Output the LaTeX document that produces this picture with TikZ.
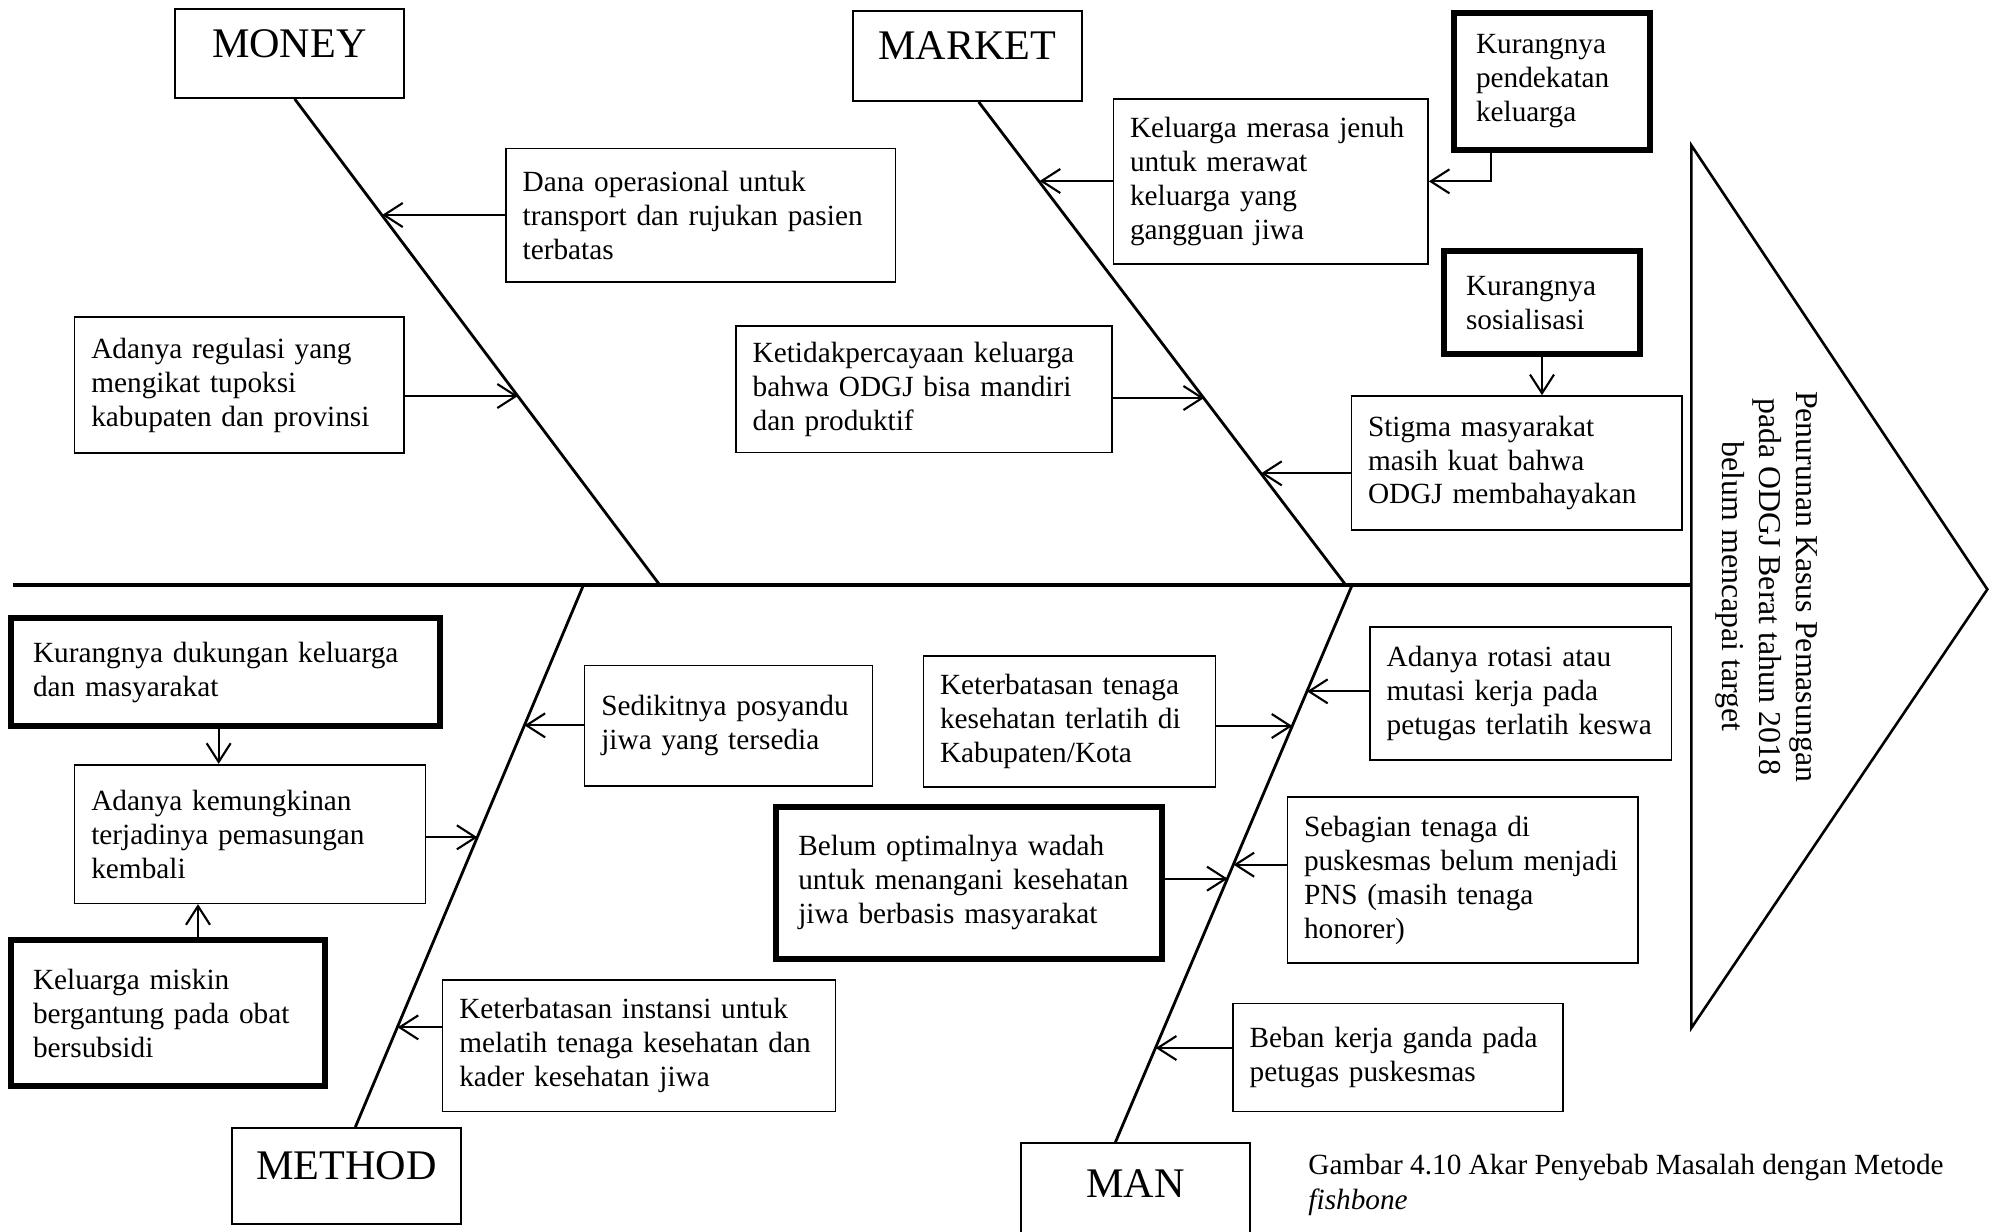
\documentclass[tikz,border=0pt]{standalone}
\usepackage{fontspec}
\setmainfont{Liberation Serif}
\usepackage{tikz}
\usetikzlibrary{arrows.meta}
\usetikzlibrary{positioning}

\tikzset{
  cause/.style={draw, rectangle, line width=0.7pt, align=left, inner xsep=0.25cm, inner ysep=0.1cm, font=\fontsize{12.5}{14.5}\selectfont},
  rootcause/.style={cause, line width=2.6pt, inner xsep=0.33cm},
  category/.style={draw, rectangle, line width=0.8pt, minimum width=3.44cm, text depth=0.3cm, font=\fontsize{18}{21}\selectfont},
  spine/.style={line width=1.7pt},
  bone/.style={line width=1.2pt},
  arr/.style={-{Straight Barb[length=2.8mm,width=3.6mm]}, line width=0.9pt},
}

\begin{document}
\begin{tikzpicture}
            \useasboundingbox (0,0) rectangle (29.985,-18.465);

            % head and spine
            \coordinate (tail) at (0.2,-8.78);
            \coordinate (headtop) at (25.37,-2.18);
            \coordinate (headtip) at (29.81,-8.84);
            \coordinate (headbot) at (25.37,-15.42);
            \draw[line width=1.1pt] (headtop) -- (headtip) -- (headbot) -- cycle;
            \node[rotate=-90, align=center, font=\fontsize{13.6}{15.8}\selectfont] (goal) at (26.49,-8.8) {Penurunan Kasus Pemasungan\\pada ODGJ Berat tahun 2018\\belum mencapai target};
            \draw[spine] (tail) -- (tail -| headtop);

            % categories
            \node[category, minimum height=1.34cm] (money) at (4.34,-0.80) {MONEY};
            \node[category, minimum height=1.35cm] (market) at (14.51,-0.84) {MARKET};
            \node[category, minimum height=1.44cm] (method) at (5.2,-17.64) {METHOD};
            \node[category, minimum height=1.5cm] (man) at (17.03,-17.9) {MAN};

            \coordinate (moneyend) at (9.90,-8.78);
            \coordinate (marketend) at (20.19,-8.78);
            \coordinate (methodend) at (8.75,-8.78);
            \coordinate (manend) at (20.28,-8.78);
            \draw[bone] ([xshift=0.08cm]money.south) -- (moneyend);
            \draw[bone] ([xshift=0.17cm]market.south) -- (marketend);
            \draw[bone] ([xshift=0.13cm]method.north) -- (methodend);
            \draw[bone] ([xshift=-0.3cm]man.north) -- (manend);

            % money
            \node[cause, text width=5.34cm, minimum height=2.0cm] (dana) at (10.51,-3.23) {Dana operasional untuk\\transport dan rujukan pasien\\terbatas};
            \node[cause, text width=4.44cm, minimum height=2.04cm] (regulasi) at (3.59,-5.775) {Adanya regulasi yang\\mengikat tupoksi\\kabupaten dan provinsi};
            \coordinate (mo1) at (5.732,-3.225);
            \coordinate (mo2) at (7.769,-5.94);
            \draw[arr] (dana.west |- mo1) -- (mo1);
            \draw[arr] (regulasi.east |- mo2) -- (mo2);

            % market
            \node[cause, text width=5.14cm, minimum height=1.9cm] (percaya) at (13.86,-5.84) {Ketidakpercayaan keluarga\\bahwa ODGJ bisa mandiri\\dan produktif};
            \node[cause, text width=4.22cm, minimum height=2.475cm] (jenuh) at (19.06,-2.72) {Keluarga merasa jenuh\\untuk merawat\\keluarga yang\\gangguan jiwa};
            \node[rootcause, text width=2.28cm, minimum height=2.06cm] (pendekatan) at (23.28,-1.22) {Kurangnya\\pendekatan\\keluarga};
            \node[rootcause, text width=2.28cm, minimum height=1.545cm] (sosialisasi) at (23.13,-4.54) {Kurangnya\\sosialisasi};
            \node[cause, text width=4.46cm, minimum height=2.01cm] (stigma) at (22.75,-6.945) {Stigma masyarakat\\masih kuat bahwa\\ODGJ membahayakan};
            \coordinate (ma1) at (15.595,-2.715);
            \coordinate (ma2) at (18.061,-5.97);
            \coordinate (ma3) at (18.917,-7.1);
            \draw[arr] (jenuh.west |- ma1) -- (ma1);
            \draw[arr] (percaya.east |- ma2) -- (ma2);
            \draw[arr] (stigma.west |- ma3) -- (ma3);
            \draw[arr] ([xshift=-0.91cm]pendekatan.south) |- (jenuh.east);
            \draw[arr] (sosialisasi.south) -- (sosialisasi.south |- stigma.north);

            % method
            \node[rootcause, text width=5.77cm, minimum height=1.62cm] (dukungan) at (3.38,-10.08) {Kurangnya dukungan keluarga\\dan masyarakat};
            \node[cause, text width=4.76cm, minimum height=2.08cm] (kemungkinan) at (3.75,-12.51) {Adanya kemungkinan\\terjadinya pemasungan\\kembali};
            \node[rootcause, text width=4.05cm, minimum height=2.19cm] (miskin) at (2.52,-15.2) {Keluarga miskin\\bergantung pada obat\\bersubsidi};
            \node[cause, text width=3.82cm, minimum height=1.81cm] (posyandu) at (10.93,-10.885) {Sedikitnya posyandu\\jiwa yang tersedia};
            \node[cause, text width=5.39cm, minimum height=1.97cm] (instansi) at (9.585,-15.685) {Keterbatasan instansi untuk\\melatih tenaga kesehatan dan\\kader kesehatan jiwa};
            \coordinate (me1) at (7.868,-10.88);
            \coordinate (me2) at (7.162,-12.56);
            \coordinate (me3) at (5.965,-15.41);
            \draw[arr] (posyandu.west |- me1) -- (me1);
            \draw[arr] (kemungkinan.east |- me2) -- (me2);
            \draw[arr] (instansi.west |- me3) -- (me3);
            \draw[arr] ([xshift=-0.1cm]dukungan.south) -- ([xshift=-0.1cm]dukungan.south |- kemungkinan.north);
            \draw[arr] ([xshift=0.45cm]miskin.north) -- ([xshift=0.45cm]miskin.north |- kemungkinan.south);

            % man
            \node[cause, text width=3.88cm, minimum height=1.97cm] (tenaga) at (16.04,-10.82) {Keterbatasan tenaga\\kesehatan terlatih di\\Kabupaten/Kota};
            \node[rootcause, text width=5.13cm, minimum height=2.28cm] (wadah) at (14.54,-13.24) {Belum optimalnya wadah\\untuk menangani kesehatan\\jiwa berbasis masyarakat};
            \node[cause, text width=4.02cm, minimum height=2.0cm] (rotasi) at (22.81,-10.4) {Adanya rotasi atau\\mutasi kerja pada\\petugas terlatih keswa};
            \node[cause, text width=4.76cm, minimum height=2.49cm] (honorer) at (21.94,-13.2) {Sebagian tenaga di\\puskesmas belum menjadi\\PNS (masih tenaga\\honorer)};
            \node[cause, text width=4.45cm, minimum height=1.62cm] (beban) at (20.97,-15.86) {Beban kerja ganda pada\\petugas puskesmas};
            \coordinate (mn1) at (19.606,-10.37);
            \coordinate (mn2) at (19.385,-10.89);
            \coordinate (mn3) at (18.503,-12.97);
            \coordinate (mn4) at (18.414,-13.18);
            \coordinate (mn5) at (17.337,-15.72);
            \draw[arr] (rotasi.west |- mn1) -- (mn1);
            \draw[arr] (tenaga.east |- mn2) -- (mn2);
            \draw[arr] (honorer.west |- mn3) -- (mn3);
            \draw[arr] (wadah.east |- mn4) -- (mn4);
            \draw[arr] (beban.west |- mn5) -- (mn5);

            \node[anchor=north west, align=left, inner sep=0pt, font=\fontsize{12.5}{14.8}\selectfont] (caption) at (19.62,-17.31) {Gambar 4.10 Akar Penyebab Masalah dengan Metode\\\textit{fishbone}};
        \end{tikzpicture}
\end{document}
